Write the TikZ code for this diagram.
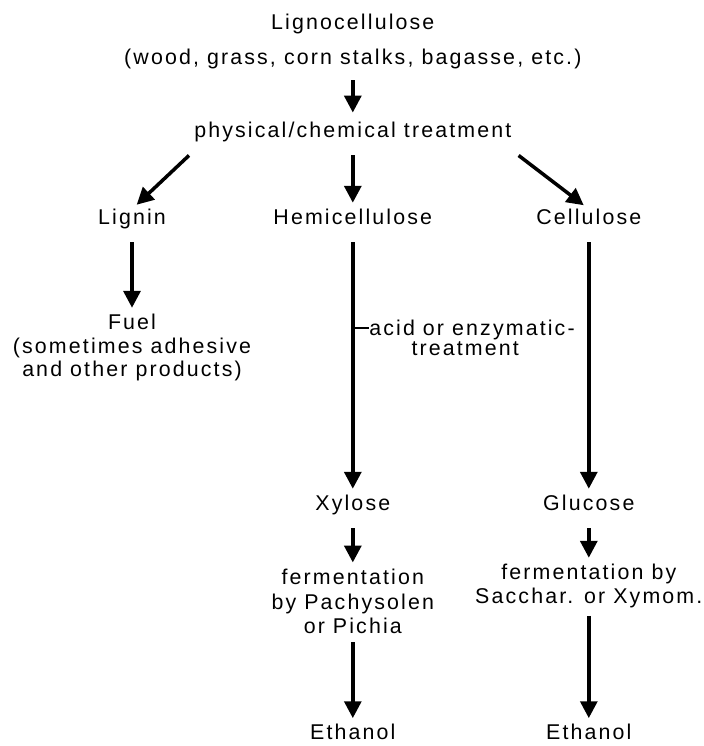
\documentclass[tikz,border=0pt]{standalone}
\usepackage{fontspec}
\setmainfont{Liberation Sans}[LetterSpace=10]
\usetikzlibrary{arrows.meta}

\begin{document}
\begin{tikzpicture}[
  every node/.style={inner sep=0pt, align=center, font=\fontsize{15.2}{16.5}\selectfont},
  word/.style={text height=10.8pt, text depth=0pt},
  flow/.style={-{Triangle[length=12pt,width=12pt]}, line width=2.5pt,
    shorten <=.43cm, shorten >=.16cm}]
  \pgfmathsetmacro{\colLeft}{3.3};
  \pgfmathsetmacro{\colMid}{8.82};
  \pgfmathsetmacro{\colRight}{14.72};
  \useasboundingbox (0,0) rectangle (17.575,18.65);
  %% Raw material
  \node[word] (lig) at (\colMid,18.1) {Lignocellulose};
  \node[word] (src) at (\colMid,17.225) {(wood, grass, corn stalks, bagasse, etc.)};
  \node[word] (trt) at (\colMid,15.4) {physical/chemical treatment};
  %% Fractions
  \node[word] (lgn) at (\colLeft,13.225) {Lignin};
  \node[word] (hem) at (\colMid,13.225) {Hemicellulose};
  \node[word] (cel) at (\colRight,13.225) {Cellulose};
  \node (fuel) at (\colLeft,9.96) {Fuel\\(sometimes adhesive\\and other products)};
  \node[word] (acid) at (11.8,10.45) {acid or enzymatic-};
  \node[word] (acidb) at (11.63,9.95) {treatment};
  %% Sugars
  \node[word] (xyl) at (\colMid,6.075) {Xylose};
  \node[word] (glu) at (\colRight,6.075) {Glucose};
  \node[font=\fontsize{15.2}{17.5}\selectfont] (fx) at (\colMid,3.61) {fermentation\\by Pachysolen\\or Pichia};
  \node (fg) at (\colRight,4.0) {fermentation by\\Sacchar. or Xymom.};
  %% Products
  \node[word] (ex) at (\colMid,0.34) {Ethanol};
  \node[word] (eg) at (\colRight,0.34) {Ethanol};
  %% Arrows
  \draw[flow, shorten <=.39cm, shorten >=.24cm] (src) -- (trt);
  \draw[flow, shorten <=0pt] ([shift={(-.125,-.44)}]trt.south west) -- (lgn.north);
  \draw[flow] (trt) -- (hem);
  \draw[flow, shorten <=0pt] ([shift={(.175,-.44)}]trt.south east) -- (cel.north);
  \draw[flow] (lgn) -- (fuel);
  \draw[flow] (hem) -- (xyl);
  \draw[flow] (cel) -- (glu);
  \draw[line width=1pt] (hem |- acid.west) -- (acid.west);
  \draw[flow] (xyl) -- (fx);
  \draw[flow] (glu) -- (fg);
  \draw[flow, shorten <=.2cm] (fx) -- (ex);
  \draw[flow, shorten <=.2cm] (fg) -- (eg);
\end{tikzpicture}
\end{document}
